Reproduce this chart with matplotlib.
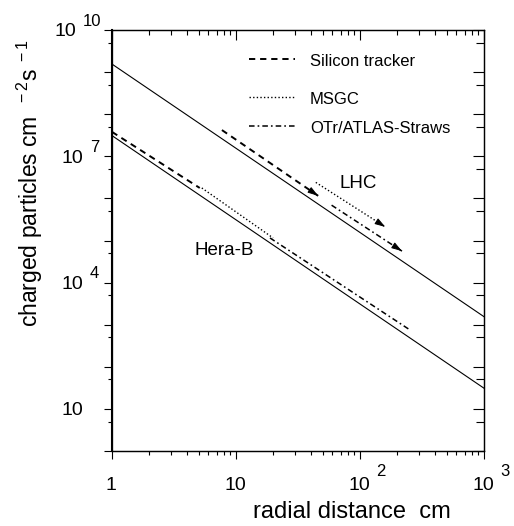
import numpy as np
import matplotlib
matplotlib.use('Agg')
import matplotlib.pyplot as plt
from matplotlib.ticker import FixedLocator, LogLocator, NullFormatter
from matplotlib.transforms import blended_transform_factory, offset_copy

plt.rcParams['font.family'] = ['Liberation Sans', 'DejaVu Sans']
plt.rcParams['mathtext.fontset'] = 'custom'
plt.rcParams['mathtext.rm'] = 'Liberation Sans'
plt.rcParams['mathtext.it'] = 'Liberation Sans'
plt.rcParams['mathtext.default'] = 'regular'
plt.rcParams['lines.scale_dashes'] = False

# total charged particle flux (solid lines)
r_total = [1, 1000]
lhc_total = [1.55e9, 1.55e3]
herab_total = [3.1e7, 31]

# Hera-B detectors
herab_si_r = [1, 5.1]
herab_si_flux = [3.8e7, 1.77e6]
herab_msgc_r = [5.3, 19.9]
herab_msgc_flux = [1.77e6, 1.15e5]
herab_otr_r = [18.8, 253]
herab_otr_flux = [1.15e5, 750]

# LHC detectors (arrows)
lhc_si_r = [7.7, 46]
lhc_si_flux = [4.2e7, 1.15e6]
lhc_msgc_r = [44, 160]
lhc_msgc_flux = [2.4e6, 2.1e5]
lhc_otr_r = [59, 218]
lhc_otr_flux = [6.9e5, 5.6e4]

legend_names = ['Silicon tracker', 'MSGC', 'OTr/ATLAS-Straws']

xtick_vals = [1, 10, 100, 1000]
xtick_base = ['1', '10', '10', '10']
xtick_sup = ['', '', '2', '3']
ytick_vals = [1e1, 1e4, 1e7, 1e10]
ytick_base = ['10', '10', '10', '10']
ytick_sup = ['', '4', '7', '10']

DASH = (0, (4.5, 3.5))
DOT = (0, (1.0, 1.6))
DASHDOT = (0, (4.0, 2.2, 1.2, 2.2))

fig = plt.figure(figsize=(5.14, 5.26), dpi=100)
ax = fig.add_axes([112/514, 1-451/526, 372/514, 421/526])
ax.set_xscale('log')
ax.set_yscale('log')
ax.set_xlim(1, 1000)
ax.set_ylim(1, 1e10)

ax.plot(r_total, lhc_total, color='k', lw=0.8)
ax.plot(r_total, herab_total, color='k', lw=0.8)

ax.plot(herab_si_r, herab_si_flux, color='k', lw=1.4, linestyle=DASH)
ax.plot(herab_msgc_r, herab_msgc_flux, color='k', lw=1.0, linestyle=DOT)
ax.plot(herab_otr_r, herab_otr_flux, color='k', lw=1.1, linestyle=DASHDOT)

for r, f, ls, lw in [(lhc_si_r, lhc_si_flux, DASH, 1.4),
                     (lhc_msgc_r, lhc_msgc_flux, DOT, 1.0),
                     (lhc_otr_r, lhc_otr_flux, DASHDOT, 1.1)]:
    ax.plot(r, f, color='k', lw=lw, linestyle=ls)
    # arrow head at the far end
    r0 = r[1] * (r[0] / r[1]) ** 0.06
    f0 = f[1] * (f[0] / f[1]) ** 0.06
    ax.annotate('', xy=(r[1], f[1]), xytext=(r0, f0),
                arrowprops=dict(arrowstyle='-|>,head_length=0.7,head_width=0.22',
                                color='k', lw=0.7, mutation_scale=9,
                                shrinkA=0, shrinkB=0))

ax.text(96, 2.3e6, 'LHC', fontsize=13.5, ha='center', va='center')
ax.text(8.0, 5.9e4, 'Hera-B', fontsize=13.5, ha='center', va='center')

# legend drawn by hand
leg_y = [0.93, 0.841, 0.771]
for name, ls, lw, y in zip(legend_names, [DASH, DOT, DASHDOT], [1.4, 1.0, 1.1], leg_y):
    ax.plot([0.368, 0.492], [y, y], transform=ax.transAxes, color='k', lw=lw, linestyle=ls)
    ax.text(0.532, y - 0.006, name, transform=ax.transAxes, fontsize=12, ha='left', va='center')

# ticks
ax.xaxis.set_major_locator(FixedLocator(xtick_vals))
ax.xaxis.set_minor_locator(LogLocator(base=10, subs=np.arange(2, 10)))
ax.yaxis.set_major_locator(FixedLocator([10.0 ** n for n in range(0, 11)]))
ax.yaxis.set_minor_locator(FixedLocator([5 * 10.0 ** n for n in range(0, 10)]))
ax.xaxis.set_major_formatter(NullFormatter())
ax.xaxis.set_minor_formatter(NullFormatter())
ax.yaxis.set_major_formatter(NullFormatter())
ax.yaxis.set_minor_formatter(NullFormatter())
ax.tick_params(which='major', direction='out', length=5.5, width=0.8, top=False, right=False)
ax.tick_params(which='minor', direction='out', length=3, width=0.8, top=False, right=False)
for s in ax.spines.values():
    s.set_linewidth(0.9)
ax.spines['left'].set_linewidth(1.5)

axt = ax.twiny()
axt.set_xscale('log')
axt.set_xlim(ax.get_xlim())
axt.xaxis.set_major_locator(FixedLocator(xtick_vals))
axt.xaxis.set_minor_locator(LogLocator(base=10, subs=np.arange(2, 10)))
axt.xaxis.set_major_formatter(NullFormatter())
axt.xaxis.set_minor_formatter(NullFormatter())
axt.tick_params(which='major', direction='in', length=7, width=0.8)
axt.tick_params(which='minor', direction='in', length=3.5, width=0.8)

axr = ax.twinx()
axr.set_yscale('log')
axr.set_ylim(ax.get_ylim())
axr.yaxis.set_major_locator(FixedLocator([10.0 ** n for n in range(0, 11)]))
axr.yaxis.set_minor_locator(FixedLocator([5 * 10.0 ** n for n in range(0, 10)]))
axr.yaxis.set_major_formatter(NullFormatter())
axr.yaxis.set_minor_formatter(NullFormatter())
axr.tick_params(which='major', direction='in', length=8, width=0.8)
axr.tick_params(which='minor', direction='in', length=6, width=0.8)

# tick labels: base "10" plus raised exponent
xt = blended_transform_factory(ax.transData, ax.transAxes)
for v, b, s in zip(xtick_vals, xtick_base, xtick_sup):
    ax.text(v, 0, b, transform=offset_copy(xt, fig, x=-1, y=-35, units='dots'),
            ha='center', va='center', fontsize=14)
    if s:
        ax.text(v, 0, s, transform=offset_copy(xt, fig, x=16, y=-20, units='dots'),
                ha='left', va='center', fontsize=12)

yt = blended_transform_factory(ax.transAxes, ax.transData)
for v, b, s in zip(ytick_vals, ytick_base, ytick_sup):
    dx = -29 - 7 * max(len(s) - 1, 0)
    ax.text(0, v, b, transform=offset_copy(yt, fig, x=dx, y=-2, units='dots'),
            ha='right', va='center', fontsize=14)
    if s:
        ax.text(0, v, s, transform=offset_copy(yt, fig, x=dx + 7, y=9, units='dots'),
                ha='left', va='center', fontsize=12)

ax.text(-0.22, 0.636, 'charged particles cm $^{\\ -2}$s$^{\\ -1}$', transform=ax.transAxes,
        rotation=90, ha='center', va='center', fontsize=16.5)
ax.text(0.645, -0.145, 'radial distance  cm', transform=ax.transAxes,
        ha='center', va='center', fontsize=17)

fig.savefig('out.png', dpi=100)
